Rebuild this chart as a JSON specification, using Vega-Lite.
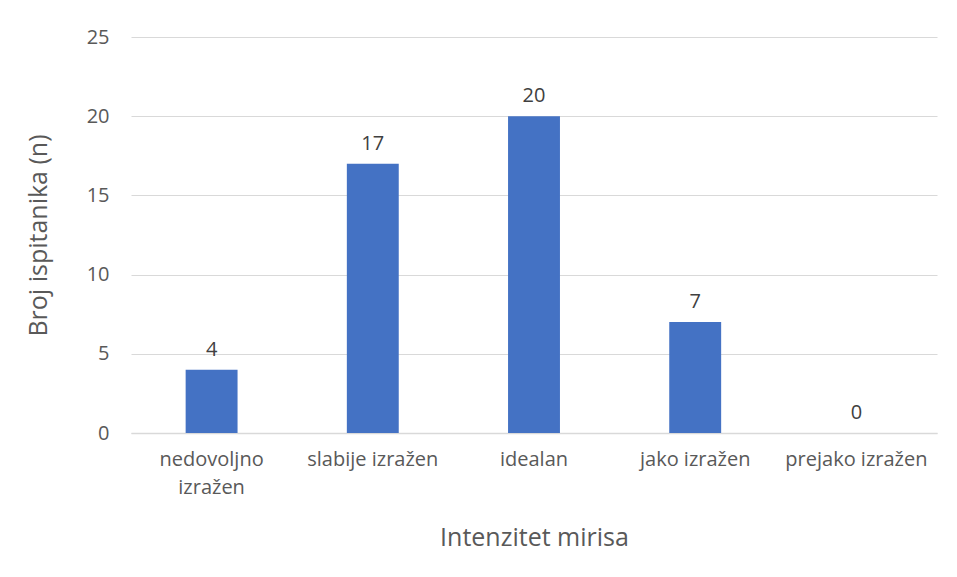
{
  "$schema": "https://vega.github.io/schema/vega-lite/v6.json",
  "width": 806,
  "height": 396,
  "autosize": {"type": "none"},
  "padding": {"left": 131, "top": 37, "right": 20, "bottom": 144},
  "background": "white",
  "data": {"values": [
    {"kat": "nedovoljno izražen", "n": 4},
    {"kat": "slabije izražen", "n": 17},
    {"kat": "idealan", "n": 20},
    {"kat": "jako izražen", "n": 7},
    {"kat": "prejako izražen", "n": 0}
  ]},
  "config": {
    "view": {"stroke": null},
    "font": "Open Sans",
    "axis": {"labelFont": "Open Sans", "titleFont": "Open Sans", "labelColor": "#595959", "titleColor": "#595959", "titleFontWeight": "normal"}
  },
  "encoding": {
    "x": {
      "field": "kat", "type": "nominal", "sort": null,
      "scale": {"paddingInner": 0.678, "paddingOuter": 0.339},
      "axis": {
        "title": "Intenzitet mirisa", "labelAngle": 0, "labelFontSize": 20,
        "labelExpr": "datum.value == 'nedovoljno izražen' ? ['nedovoljno', 'izražen'] : datum.value",
        "labelLineHeight": 28, "labelPadding": 16, "labelBaseline": "top",
        "ticks": false, "domainColor": "#d9d9d9", "domainWidth": 1.5,
        "titleFontSize": 25, "titleY": 104, "titleBaseline": "middle",
        "labelLimit": 300
      }
    },
    "y": {
      "field": "n", "type": "quantitative",
      "scale": {"domain": [0, 25]},
      "axis": {
        "title": "Broj ispitanika (n)", "values": [0, 5, 10, 15, 20, 25],
        "labelFontSize": 20, "labelPadding": 22, "ticks": false, "domain": false,
        "gridColor": "#d9d9d9", "gridWidth": 1.2,
        "titleFontSize": 25, "titleX": -80, "titleY": 198, "titleAnchor": "middle"
      }
    }
  },
  "layer": [
    {"mark": {"type": "bar", "color": "#4472C4"}},
    {"mark": {"type": "text", "baseline": "bottom", "dy": -10, "fontSize": 20, "color": "#404040", "font": "Open Sans"},
     "encoding": {"text": {"field": "n", "type": "quantitative"}}}
  ]
}
